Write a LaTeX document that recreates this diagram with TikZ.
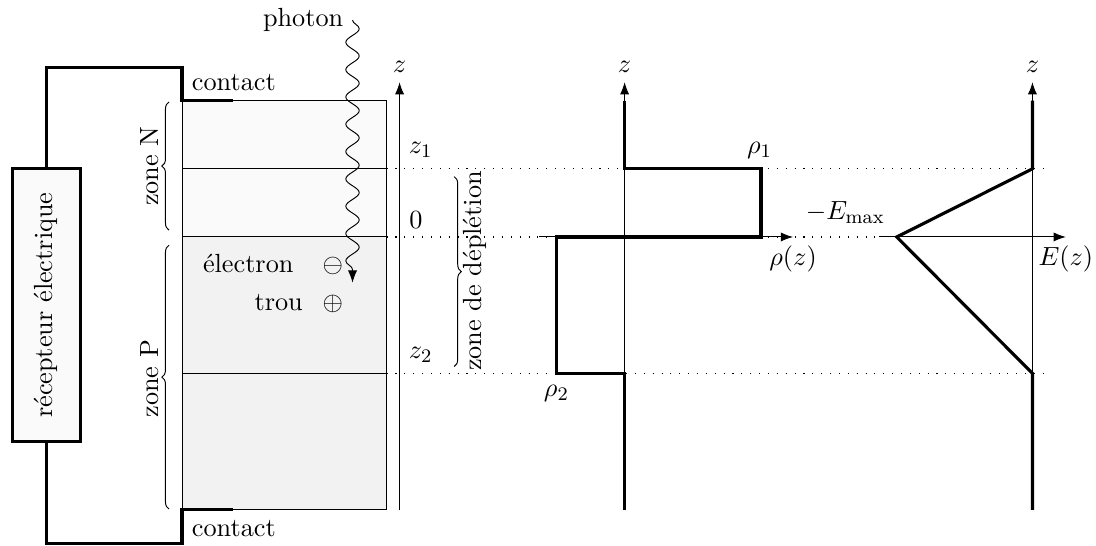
\documentclass[tikz,border=0pt,11pt]{standalone}
\usepackage{amsmath}
\usetikzlibrary{arrows.meta,decorations.pathmorphing,decorations.pathreplacing}
\tikzset{
    wire/.style={line width=1.3pt},
    curve/.style={line width=1.3pt},
    axis/.style={-{Latex[length=1.8mm,width=1.35mm]}},
    level/.style={line width=0.45pt, dash pattern=on 0.45pt off 3.25pt},
    brace/.style={decorate, decoration={brace, amplitude=3pt}},
}
\begin{document}
\begin{tikzpicture}
    \useasboundingbox (-2.669,-4.531) rectangle (13.402,3.475);

    % semiconducteur
    \fill[black!2] (0,0) rectangle (3,2);
    \fill[black!5] (0,-4) rectangle (3,0);
    \draw[line width=0.4pt] (0,-4) rectangle (3,2);
    \draw[line width=0.4pt] (0,1) -- (3,1);
    \draw[line width=0.4pt] (0,0) -- (3,0);
    \draw[line width=0.4pt] (0,-2) -- (3,-2);

    % lignes de niveau
    \coordinate (lvl1a) at (3,1);
    \coordinate (lvl1b) at (12.65,1);
    \coordinate (lvl0a) at (3,0);
    \coordinate (lvl0b) at (10.22,0);
    \coordinate (lvl2a) at (3,-2);
    \coordinate (lvl2b) at (12.65,-2);
    \draw[level] (lvl1a) -- (lvl1b);
    \draw[level] (lvl0a) -- (lvl0b);
    \draw[level] (lvl2a) -- (lvl2b);

    % recepteur et fils
    \node[draw, wire, fill=black!2, minimum width=1cm, minimum height=4cm] (recv) at (-1.99,-1) {};
    \node[rotate=90] (recvtext) at (recv.center) {récepteur électrique};
    \coordinate (ctop) at (0,2);
    \coordinate (ctopend) at (0.75,2);
    \coordinate (cbot) at (0,-4);
    \coordinate (cbotend) at (0.75,-4);
    \draw[wire] (recv.north) -- (-1.99,2.48) -- (0,2.48) -- (ctop) -- (ctopend);
    \draw[wire] (recv.south) -- (-1.99,-4.49) -- (0,-4.49) -- (cbot) -- (cbotend);
    \node[anchor=base west] (ctoplabel) at (0.01,2.145) {contact};
    \node[anchor=base west] (cbotlabel) at (0.01,-4.39) {contact};

    % accolades des zones
    \coordinate (bn1) at (-0.19,0.1);
    \coordinate (bn2) at (-0.19,1.98);
    \coordinate (bp1) at (-0.19,-3.99);
    \coordinate (bp2) at (-0.19,-0.12);
    \draw[brace] (bn1) -- (bn2);
    \draw[brace] (bp1) -- (bp2);
    \node[rotate=90] (zn) at (-0.477,1.04) {zone N};
    \node[rotate=90] (zp) at (-0.477,-2.08) {zone P};

    % photon
    \coordinate (ph1) at (2.5,3.18);
    \coordinate (ph2) at (2.5,-0.67);
    \node[anchor=base east] (photon) at (2.5,3.09) {photon};
    \draw[-{Latex[length=1.8mm,width=1.35mm]}, decorate, decoration={snake, amplitude=2.8pt, segment length=11.4pt, post length=1.5mm}] (ph1) -- (ph2);

    % porteurs
    \node[anchor=base east] (elec) at (1.77,-0.523) {électron};
    \node[anchor=base] (moins) at (2.21,-0.52) {$\ominus$};
    \node[anchor=base east] (trou) at (1.906,-1.085) {trou};
    \node[anchor=base] (plus) at (2.21,-1.08) {$\oplus$};

    % axe z du dispositif
    \coordinate (za) at (3.19,-4);
    \coordinate (zb) at (3.19,2.27);
    \draw[axis] (za) -- (zb) node[above] (zlab) {$z$};
    \node (z1) at (3.5,1.28) {$z_1$};
    \node (z0) at (3.43,0.25) {$0$};
    \node (z2) at (3.5,-1.73) {$z_2$};

    % zone de depletion
    \coordinate (bd1) at (3.99,0.885);
    \coordinate (bd2) at (3.99,-1.9);
    \draw[brace] (bd1) -- (bd2);
    \node[rotate=90] (zd) at (4.29,-0.5) {zone de déplétion};

    % charge
    \coordinate (ra) at (6.49,-4);
    \coordinate (rb) at (6.49,2.27);
    \draw[axis] (ra) -- (rb) node[above] (rz) {$z$};
    \coordinate (rs) at (5.24,0);
    \coordinate (rx) at (8.96,0);
    \draw[axis] (rs) -- (rx) node[below] (rlab) {$\rho(z)$};
    \draw[curve] (6.49,-4) -- (6.49,-2) -- (5.49,-2) -- (5.49,0) -- (8.49,0) -- (8.49,1) -- (6.49,1) -- (6.49,2);
    \node (rho1) at (8.47,1.27) {$\rho_1$};
    \node (rho2) at (5.49,-2.3) {$\rho_2$};

    % champ
    \coordinate (ea) at (12.47,-4);
    \coordinate (eb) at (12.47,2.27);
    \draw[axis] (ea) -- (eb) node[above] (ez) {$z$};
    \coordinate (ex) at (12.96,0);
    \draw[axis] (lvl0b) -- (ex) node[below] (elab) {$E(z)$};
    \draw[curve] (12.47,-4) -- (12.47,-2) -- (10.48,0) -- (12.47,1) -- (12.47,2);
    \node[anchor=base east] (emax) at (10.44,0.25) {$-E_{\text{max}}$};
\end{tikzpicture}
\end{document}
